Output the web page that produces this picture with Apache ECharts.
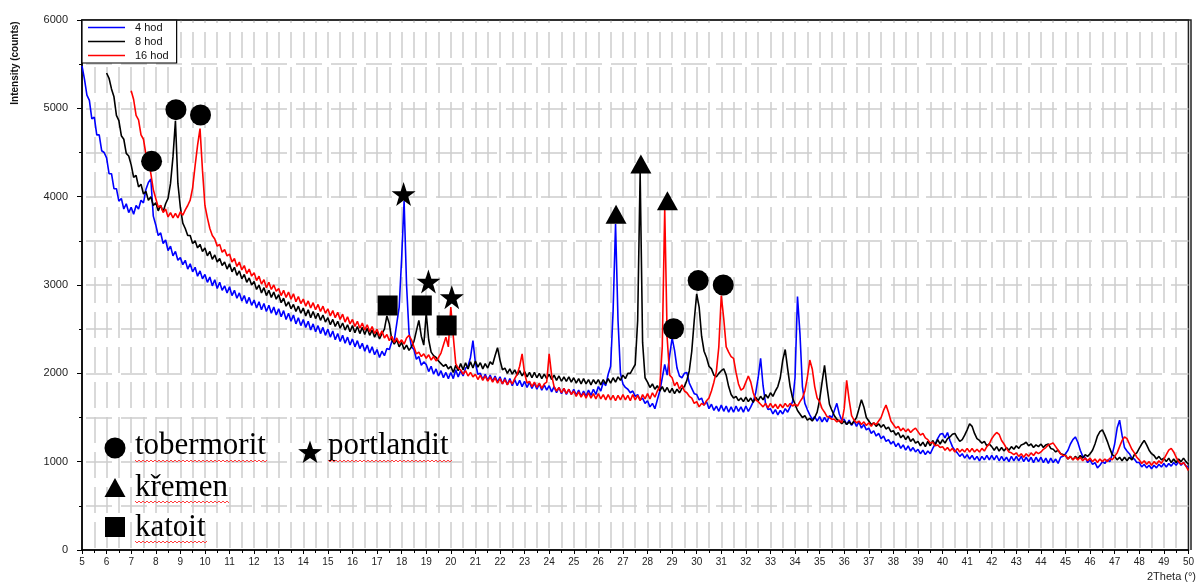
<!DOCTYPE html>
<html>
<head>
<meta charset="utf-8">
<script src="https://cdn.jsdelivr.net/npm/echarts@6/dist/echarts.min.js"></script>
<style>
  html, body { margin: 0; padding: 0; background: #ffffff; }
  #chart { width: 1197px; height: 583px; }
</style>
</head>
<body>
<div id="chart"></div>
<script>
// XRD scans, counts sampled every 0.1 deg 2Theta
const seriesNames = ['4 hod', '8 hod', '16 hod'];
const seriesColors = ['#0000ff', '#000000', '#ff0000'];
const scanStep = 0.1;
const scanStart = [5, 6, 7];

const counts4h = [
  5480, 5330, 5150, 5090, 4880, 4900, 4700, 4700, 4520, 4500,
  4440, 4260, 4260, 4090, 4090, 3950, 3980, 3860, 3920, 3820,
  3880, 3800, 3900, 3860, 3960, 3930, 4080, 4160, 4200, 3780,
  3680, 3560, 3590, 3470, 3510, 3390, 3440, 3330, 3380, 3280,
  3310, 3230, 3280, 3180, 3240, 3150, 3200, 3100, 3160, 3070,
  3120, 3030, 3090, 2990, 3060, 2960, 3030, 2940, 2990, 2910,
  2980, 2880, 2940, 2850, 2910, 2820, 2880, 2790, 2860, 2770,
  2830, 2740, 2810, 2720, 2790, 2700, 2770, 2680, 2750, 2660,
  2730, 2640, 2710, 2610, 2680, 2590, 2660, 2560, 2630, 2540,
  2610, 2520, 2590, 2490, 2560, 2470, 2540, 2450, 2520, 2430,
  2500, 2410, 2480, 2380, 2450, 2360, 2430, 2340, 2410, 2320,
  2390, 2300, 2370, 2280, 2340, 2250, 2320, 2230, 2300, 2210,
  2270, 2180, 2250, 2200, 2280, 2270, 2360, 2370, 2560, 2750,
  3300, 3950, 3000, 2460, 2300, 2270, 2160, 2190, 2090, 2130,
  2100, 2020, 2080, 1990, 2050, 1970, 2030, 1950, 2010, 1940,
  2010, 1940, 2040, 1960, 2030, 1970, 2060, 2080, 2180, 2370,
  2120, 1990, 2000, 1930, 1990, 1920, 1980, 1910, 1970, 1900,
  1960, 1880, 1950, 1870, 1940, 1860, 1930, 1860, 1920, 1850,
  1910, 1840, 1900, 1830, 1890, 1820, 1880, 1810, 1870, 1810,
  1860, 1790, 1850, 1780, 1840, 1770, 1830, 1760, 1820, 1760,
  1820, 1750, 1810, 1740, 1800, 1740, 1810, 1750, 1820, 1760,
  1850, 1800, 1900, 1860, 1990, 2080, 2700, 3690, 2600, 2000,
  1880, 1840, 1820, 1780, 1800, 1740, 1760, 1700, 1720, 1660,
  1690, 1620, 1660, 1600, 1700, 1800, 1950, 2100, 1980, 2200,
  2400, 2260, 2060, 1970, 1950, 2000, 2010, 1890, 1830, 1770,
  1760, 1700, 1720, 1640, 1680, 1600, 1650, 1580, 1630, 1570,
  1640, 1570, 1630, 1560, 1620, 1560, 1630, 1570, 1620, 1560,
  1630, 1570, 1620, 1680, 1780, 1950, 2170, 1860, 1660, 1590,
  1600, 1540, 1590, 1530, 1580, 1540, 1600, 1560, 1620, 1680,
  1950, 2870, 2450, 1850, 1660, 1590, 1530, 1480, 1510, 1460,
  1510, 1450, 1500, 1450, 1520, 1500, 1580, 1660, 1540, 1470,
  1480, 1420, 1470, 1410, 1460, 1400, 1450, 1380, 1420, 1360,
  1380, 1320, 1350, 1290, 1320, 1260, 1290, 1230, 1250, 1200,
  1230, 1170, 1210, 1150, 1190, 1130, 1180, 1120, 1160, 1110,
  1140, 1090, 1130, 1080, 1120, 1090, 1150, 1200, 1260, 1310,
  1320, 1270, 1330, 1240, 1170, 1130, 1100, 1060, 1090, 1040,
  1080, 1030, 1070, 1020, 1060, 1010, 1060, 1020, 1070, 1020,
  1070, 1020, 1070, 1010, 1060, 1010, 1050, 1000, 1060, 1010,
  1060, 1010, 1060, 1000, 1050, 1000, 1050, 990, 1050, 1000,
  1050, 990, 1040, 980, 1040, 990, 1030, 980, 1050, 1060,
  1090, 1130, 1200, 1250, 1280, 1220, 1130, 1060, 1050, 990,
  1020, 970, 990, 930, 960, 1000, 980, 1020, 1000, 1080,
  1200, 1380, 1470, 1300, 1160, 1120, 1090, 1040, 1030, 990,
  990, 940, 970, 930, 960, 920, 960, 930, 970, 940,
  980, 940, 980, 950, 990, 960, 1000, 960, 990, 950,
  940
];

const counts8h = [
  5400, 5340, 5220, 5130, 4920, 4860, 4690, 4650, 4490, 4460,
  4360, 4220, 4240, 4110, 4140, 4030, 4060, 3960, 4000, 3900,
  3930, 3840, 3900, 3830, 3920, 3980, 4150, 4450, 4860, 4150,
  3880, 3700, 3640, 3560, 3560, 3470, 3500, 3420, 3460, 3380,
  3420, 3330, 3380, 3290, 3340, 3260, 3300, 3220, 3260, 3180,
  3240, 3150, 3200, 3110, 3160, 3070, 3120, 3030, 3080, 3000,
  3040, 2950, 3000, 2910, 2970, 2880, 2940, 2860, 2920, 2840,
  2890, 2800, 2850, 2760, 2810, 2730, 2780, 2700, 2760, 2680,
  2740, 2650, 2720, 2630, 2700, 2620, 2680, 2600, 2660, 2580,
  2630, 2550, 2610, 2530, 2590, 2510, 2570, 2490, 2550, 2470,
  2540, 2460, 2530, 2450, 2520, 2440, 2510, 2430, 2490, 2410,
  2470, 2390, 2450, 2500, 2650, 2560, 2380, 2330, 2380, 2300,
  2350, 2270, 2320, 2260, 2300, 2360, 2480, 2600, 2420, 2320,
  2680, 2380, 2240, 2200, 2180, 2140, 2110, 2080, 2100, 2050,
  2080, 2010, 2090, 2030, 2110, 2040, 2120, 2050, 2130, 2060,
  2140, 2070, 2120, 2050, 2110, 2060, 2130, 2100, 2200, 2290,
  2150, 2040, 2060, 2000, 2050, 1990, 2040, 1980, 2030, 1970,
  2020, 1960, 2010, 1950, 2010, 1950, 2000, 1940, 1990, 1940,
  1990, 1930, 1980, 1920, 1970, 1910, 1960, 1910, 1960, 1900,
  1950, 1890, 1940, 1880, 1940, 1880, 1930, 1870, 1930, 1880,
  1930, 1870, 1930, 1880, 1940, 1890, 1950, 1900, 1960, 1920,
  1980, 1940, 2000, 2000, 2050, 2100, 2600, 4270, 2350, 1950,
  1900, 1840, 1880, 1820, 1860, 1800, 1850, 1790, 1840, 1780,
  1830, 1770, 1820, 1780, 1830, 1850, 1920, 2030, 2250, 2600,
  2900, 2750, 2420, 2250, 2180, 2080, 2050, 1980, 1960, 2000,
  2030, 2050, 1980, 1850, 1760, 1720, 1740, 1690, 1720, 1680,
  1730, 1680, 1720, 1670, 1730, 1690, 1740, 1700, 1760, 1720,
  1780, 1740, 1800, 1850, 1950, 2150, 2270, 2050, 1850, 1720,
  1650, 1580, 1540, 1500, 1520, 1470, 1490, 1460, 1500, 1560,
  1700, 1900, 2090, 1850, 1650, 1580, 1520, 1480, 1460, 1430,
  1460, 1420, 1450, 1420, 1460, 1500, 1600, 1700, 1620, 1500,
  1460, 1420, 1440, 1400, 1430, 1390, 1420, 1370, 1390, 1340,
  1350, 1300, 1330, 1270, 1300, 1250, 1290, 1230, 1260, 1210,
  1230, 1180, 1220, 1170, 1230, 1180, 1240, 1190, 1250, 1200,
  1250, 1210, 1260, 1280, 1310, 1320, 1270, 1230, 1250, 1300,
  1360, 1430, 1400, 1320, 1260, 1240, 1210, 1230, 1180, 1200,
  1170, 1130, 1170, 1120, 1160, 1120, 1160, 1130, 1170, 1140,
  1180, 1150, 1190, 1200, 1220, 1180, 1200, 1160, 1190, 1170,
  1200, 1160, 1190, 1200, 1150, 1140, 1110, 1130, 1090, 1080,
  1070, 1030, 1060, 1020, 1060, 1030, 1070, 1040, 1080, 1060,
  1090, 1130, 1200, 1290, 1340, 1360, 1300, 1230, 1150, 1080,
  1060, 1020, 1050, 1010, 1050, 1010, 1050, 1020, 1080, 1100,
  1150, 1200, 1240, 1190, 1130, 1090, 1070, 1030, 1060, 1020,
  1040, 1000, 1040, 990, 1030, 990, 1030, 1000, 1040, 1000,
  970
];

const counts16h = [
  5200, 5100, 4920, 4870, 4700, 4650, 4480, 4420, 4260, 4080,
  3980, 3880, 3900, 3820, 3860, 3770, 3820, 3760, 3810, 3760,
  3830, 3790, 3850, 3900, 3960, 4100, 4350, 4580, 4770, 4300,
  3900, 3760, 3640, 3560, 3520, 3440, 3460, 3370, 3400, 3330,
  3350, 3260, 3300, 3210, 3260, 3170, 3220, 3130, 3180, 3100,
  3140, 3050, 3100, 3010, 3060, 2970, 3030, 2950, 3000, 2930,
  2960, 2880, 2940, 2860, 2920, 2840, 2900, 2810, 2870, 2790,
  2840, 2760, 2820, 2740, 2800, 2720, 2780, 2700, 2760, 2680,
  2730, 2650, 2710, 2630, 2690, 2610, 2670, 2580, 2640, 2560,
  2610, 2530, 2590, 2510, 2570, 2490, 2550, 2470, 2530, 2450,
  2500, 2420, 2480, 2400, 2440, 2370, 2420, 2350, 2400, 2340,
  2380, 2330, 2400, 2430, 2380, 2300, 2220, 2240, 2190, 2220,
  2170, 2210, 2150, 2190, 2140, 2180, 2230, 2320, 2410, 2300,
  2750, 2420, 2110, 2060, 2040, 1990, 2030, 1970, 2010, 1960,
  1990, 1930, 1980, 1920, 1970, 1910, 1960, 1900, 1950, 1890,
  1940, 1880, 1930, 1870, 1920, 1880, 1940, 1990, 2080, 2220,
  2000, 1890, 1910, 1850, 1900, 1840, 1890, 1830, 1880, 1900,
  2220, 1980, 1850, 1800, 1840, 1780, 1830, 1770, 1820, 1760,
  1800, 1740, 1790, 1730, 1780, 1720, 1780, 1720, 1770, 1710,
  1770, 1710, 1760, 1700, 1760, 1700, 1750, 1690, 1750, 1700,
  1760, 1700, 1750, 1690, 1760, 1700, 1750, 1690, 1760, 1710,
  1770, 1710, 1780, 1730, 1800, 1850, 2300, 3860, 2400, 1980,
  1950, 1860, 1900, 1820, 1870, 1800, 1780, 1740, 1720, 1660,
  1680, 1620, 1660, 1640, 1690, 1720, 1800, 1900, 2020, 2300,
  2880, 2620, 2300, 2240, 2190, 2170, 2010, 1880, 1810, 1830,
  1900, 1970, 1900, 1780, 1700, 1680, 1650, 1620, 1660, 1610,
  1660, 1610, 1650, 1600, 1650, 1610, 1660, 1620, 1660, 1630,
  1650, 1630, 1680, 1720, 1800, 1950, 2150, 2050, 1850, 1720,
  1680, 1600, 1560, 1510, 1500, 1480, 1480, 1450, 1470, 1440,
  1600, 1920, 1700, 1520, 1470, 1440, 1460, 1420, 1450, 1410,
  1440, 1400, 1440, 1420, 1460, 1500, 1580, 1640, 1560, 1460,
  1420, 1380, 1400, 1350, 1380, 1340, 1370, 1330, 1360, 1380,
  1340, 1300, 1320, 1270, 1250, 1210, 1220, 1180, 1190, 1160,
  1170, 1130, 1160, 1120, 1150, 1110, 1150, 1110, 1140, 1110,
  1150, 1110, 1150, 1110, 1140, 1110, 1150, 1120, 1170, 1200,
  1260, 1300, 1330, 1310, 1240, 1200, 1150, 1110, 1100, 1080,
  1100, 1060, 1090, 1050, 1090, 1060, 1100, 1070, 1110, 1090,
  1110, 1140, 1160, 1190, 1200, 1210, 1170, 1130, 1090, 1070,
  1070, 1030, 1060, 1020, 1050, 1020, 1050, 1010, 1040, 1010,
  1040, 1000, 1030, 990, 1030, 1000, 1030, 1000, 1040, 1020,
  1060, 1100, 1170, 1240, 1280, 1260, 1200, 1140, 1100, 1050,
  1020, 980, 1010, 970, 1000, 960, 1000, 970, 1010, 980,
  1030, 1080, 1130, 1150, 1110, 1050, 1000, 970, 990, 950,
  900
];

// phase identification marks: [2Theta, counts]
const tobermoritPeaks = [[7.83, 4400], [8.82, 4985], [9.82, 4925], [29.06, 2505], [30.06, 3050], [31.08, 3000]];
const kremenPeaks = [[26.72, 3800], [27.73, 4370], [28.81, 3955]];
const portlanditPeaks = [[18.08, 4030], [19.09, 3040], [20.04, 2862]];
const katoitPeaks = [[17.43, 2768], [18.82, 2768], [19.83, 2542]];

const phaseLabels = ['tobermorit', 'k\u0159emen', 'katoit', 'portlandit'];

const xMin = 5, xMax = 50, xStep = 1;
const yMin = 0, yMax = 6000, yStep = 1000;

const scans = [counts4h, counts8h, counts16h];

function toPairs(values, start) {
  return values.map((v, i) => [+(start + i * scanStep).toFixed(2), v]);
}

const STAR = 'path://M50,2 L61.8,36.2 L97.6,36.2 L68.6,57.3 L79.4,91.6 L50,70.6 L20.6,91.6 L31.4,57.3 L2.4,36.2 L38.2,36.2 Z';
// legend key: a plain horizontal stroke (tiny corner dots keep the 37x10 box)
const LEGEND_LINE = 'path://M0,0 L0.01,0 L0.01,0.01 Z M0,4.3 L37,4.3 L37,5.7 L0,5.7 Z M0,10 L0.01,10 L0.01,9.99 Z';

function starPoints(cx, cy, R, r) {
  const pts = [];
  for (let k = 0; k < 10; k++) {
    const a = -Math.PI / 2 + k * Math.PI / 5;
    const rr = k % 2 === 0 ? R : r;
    pts.push([cx + rr * Math.cos(a), cy + rr * Math.sin(a)]);
  }
  return pts;
}

function squiggle(x0, x1, y) {
  const pts = [];
  let up = true;
  for (let x = x0; x <= x1; x += 2) {
    pts.push([x, up ? y - 1 : y + 1]);
    up = !up;
  }
  return pts;
}

const gridDash = { color: '#cdcdcd', width: 1.5, type: [26, 9] };

const lineSeries = seriesNames.map((name, i) => ({
  type: 'line',
  name: name,
  data: toPairs(scans[i], scanStart[i]),
  symbol: 'none',
  smooth: false,
  lineStyle: { width: 1.6, color: seriesColors[i] },
  itemStyle: { color: seriesColors[i] },
  z: 2 + i,
  silent: true
}));

const markSeries = [
  { name: phaseLabels[0], data: tobermoritPeaks, symbol: 'circle', symbolSize: 21 },
  { name: phaseLabels[1], data: kremenPeaks, symbol: 'triangle', symbolSize: [21, 19] },
  { name: phaseLabels[2], data: katoitPeaks, symbol: 'rect', symbolSize: 20 },
  { name: phaseLabels[3], data: portlanditPeaks, symbol: STAR, symbolSize: 24 }
].map(s => Object.assign({
  type: 'scatter',
  itemStyle: { color: '#000000', opacity: 1 },
  z: 10,
  silent: true
}, s));

const serif = '31px "Liberation Serif", "Times New Roman", serif';

const keyGraphics = [
  { type: 'circle', shape: { cx: 115, cy: 448, r: 10.5 }, style: { fill: '#000' } },
  { type: 'polygon', shape: { points: [[104.5, 497], [125.5, 497], [115, 478]] }, style: { fill: '#000' } },
  { type: 'rect', shape: { x: 105, y: 517, width: 20, height: 20 }, style: { fill: '#000' } },
  { type: 'polygon', shape: { points: starPoints(310, 453, 12.5, 5) }, style: { fill: '#000' } },
  { type: 'text', x: 135, y: 445.5, style: { text: phaseLabels[0], font: serif, fill: '#000', verticalAlign: 'middle' } },
  { type: 'text', x: 135, y: 487.5, style: { text: phaseLabels[1], font: serif, fill: '#000', verticalAlign: 'middle' } },
  { type: 'text', x: 135, y: 527.5, style: { text: phaseLabels[2], font: serif, fill: '#000', verticalAlign: 'middle' } },
  { type: 'text', x: 328, y: 445.5, style: { text: phaseLabels[3], font: serif, fill: '#000', verticalAlign: 'middle' } },
  { type: 'polyline', shape: { points: squiggle(135, 268, 461) }, style: { stroke: '#ff4040', lineWidth: 1, fill: null } },
  { type: 'polyline', shape: { points: squiggle(135, 230, 502) }, style: { stroke: '#ff4040', lineWidth: 1, fill: null } },
  { type: 'polyline', shape: { points: squiggle(135, 207, 542) }, style: { stroke: '#ff4040', lineWidth: 1, fill: null } },
  { type: 'polyline', shape: { points: squiggle(328, 452, 461) }, style: { stroke: '#ff4040', lineWidth: 1, fill: null } }
].map(g => Object.assign({ z: 20, silent: true }, g));

const chart = echarts.init(document.getElementById('chart'), null, { renderer: 'canvas' });

chart.setOption({
  animation: false,
  backgroundColor: '#ffffff',
  grid: {
    left: 82, right: 6, top: 20, bottom: 33,
    show: true, borderColor: '#222222', borderWidth: 1.5, backgroundColor: 'transparent'
  },
  legend: {
    data: seriesNames.map(n => ({ name: n, icon: LEGEND_LINE })),
    orient: 'vertical',
    left: 82, top: 20,
    itemWidth: 37, itemHeight: 10, itemGap: 3,
    padding: [2, 8, 2, 6],
    borderColor: '#000000', borderWidth: 1.2,
    backgroundColor: '#ffffff',
    selectedMode: false,
    textStyle: { fontSize: 11, fontFamily: '"Liberation Sans", Arial, sans-serif', color: '#111', padding: [0, 0, 0, 5] }
  },
  xAxis: {
    type: 'value',
    min: xMin, max: xMax, interval: xStep,
    axisLine: { lineStyle: { color: '#000', width: 1.5 } },
    axisTick: { length: 4, lineStyle: { color: '#000', width: 1 } },
    minorTick: { show: true, splitNumber: 2, length: 3, lineStyle: { color: '#000', width: 1 } },
    axisLabel: { color: '#222', fontSize: 10, fontFamily: '"Liberation Sans", Arial, sans-serif', margin: 7, showMaxLabel: true, showMinLabel: true },
    splitLine: { show: true, showMinLine: false, showMaxLine: false, lineStyle: Object.assign({ dashOffset: 23 }, gridDash) },
    minorSplitLine: { show: true, lineStyle: Object.assign({ dashOffset: 23 }, gridDash) }
  },
  yAxis: {
    type: 'value',
    min: yMin, max: yMax, interval: yStep,
    axisLine: { show: true, lineStyle: { color: '#000', width: 1.5 } },
    axisTick: { show: true, length: 5, lineStyle: { color: '#000', width: 1 } },
    minorTick: { show: true, splitNumber: 2, length: 3, lineStyle: { color: '#000', width: 1 } },
    axisLabel: { color: '#222', fontSize: 11, fontFamily: '"Liberation Sans", Arial, sans-serif', margin: 14, formatter: v => String(v) },
    splitLine: { show: true, showMinLine: false, showMaxLine: false, lineStyle: Object.assign({ dashOffset: 31 }, gridDash) },
    minorSplitLine: { show: true, lineStyle: Object.assign({ dashOffset: 31 }, gridDash) }
  },
  graphic: [
    {
      type: 'text', x: 15, y: 63, rotation: Math.PI / 2, silent: true,
      style: { text: 'Intensity (counts)', font: 'bold 10px "Liberation Sans", Arial, sans-serif', fill: '#111', align: 'center', verticalAlign: 'middle' }
    },
    {
      type: 'text', x: 1147, y: 577, silent: true,
      style: { text: '2Theta (\u00b0)', font: '11px "Liberation Sans", Arial, sans-serif', fill: '#222', align: 'left', verticalAlign: 'middle' }
    },
    {
      // top and right frame drawn above the dashed grid
      type: 'polyline', silent: true, z: 30,
      shape: { points: [[82, 20], [1191, 20], [1191, 550]] },
      style: { stroke: '#222222', lineWidth: 1.5, fill: null }
    }
  ].concat(keyGraphics),
  series: lineSeries.concat(markSeries)
});
</script>
</body>
</html>
